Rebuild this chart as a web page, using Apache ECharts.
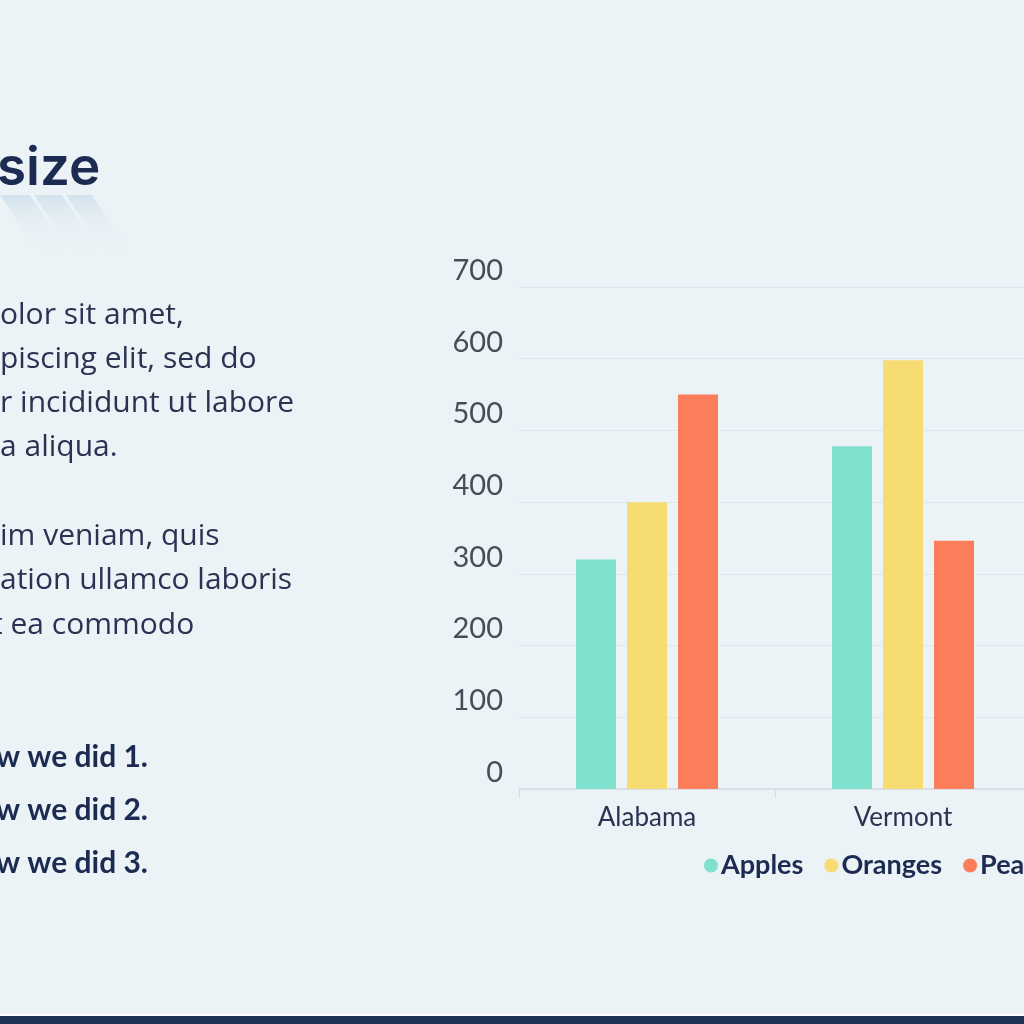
<!DOCTYPE html>
<html>
<head>
<meta charset="utf-8">
<script src="https://cdn.jsdelivr.net/npm/echarts@6/dist/echarts.min.js"></script>
<style>
  html, body { margin: 0; padding: 0; background: #ecf3f7; overflow: hidden; width: 1024px; height: 1024px; }
  /* the slide runs past the right edge of the picture */
  #chart { width: 1320px; height: 1024px; }
</style>
</head>
<body>
<div id="chart"></div>
<script>
// chart data
const categories = ['Alabama', 'Vermont', ''];
const seriesNames = ['Apples', 'Oranges', 'Pears'];
const apples = [320, 478];
const oranges = [400, 598];
const pears = [550, 346];
const yTicks = [0, 100, 200, 300, 400, 500, 600, 700];

// slide text (cut off at left edge of the picture)
const titleText = 'size';
const bodyLines = [
    'olor sit amet,',
    'piscing elit, sed do',
    'r incididunt ut labore',
    'a aliqua.',
    '',
    'im veniam, quis',
    'ation ullamco laboris',
    't ea commodo'
];
const boldLines = ['w we did 1.', 'w we did 2.', 'w we did 3.'];

const colors = ['#80e1cf', '#f6dc72', '#fc7d5a'];
const navy = '#1c2b52';
const font = 'Lato, "Open Sans", sans-serif';

function createOptions() {
    const values = [apples, oranges, pears];
    const seriesList = [];
    seriesNames.forEach((name, i) => {
        seriesList.push({
            name: name,
            type: 'bar',
            barWidth: 40,
            barGap: '27.5%',
            itemStyle: { color: colors[i] },
            data: values[i]
        });
    });

    const graphics = [];
    // faint streaks under the title
    [[0, 30], [34, 62], [66, 92]].forEach((s) => {
        graphics.push({
            type: 'polygon',
            shape: { points: [[s[0], 195], [s[1], 195], [s[1] + 36, 250], [s[0] + 36, 250]] },
            style: {
                fill: new echarts.graphic.LinearGradient(0, 0, 0, 1, [
                    { offset: 0, color: 'rgba(195,215,230,0.6)' },
                    { offset: 1, color: 'rgba(236,243,247,0)' }
                ])
            }
        });
    });
    graphics.push({
        type: 'text', left: -3, top: 143,
        style: { text: titleText, font: '600 53px Inter, sans-serif', fill: navy }
    });
    bodyLines.forEach((line, i) => {
        graphics.push({
            type: 'text', left: i === 7 ? -8 : 0, top: 300 + i * 44.3,
            style: { text: line, font: '30px "Open Sans", sans-serif', fill: '#2a3352' }
        });
    });
    boldLines.forEach((line, i) => {
        graphics.push({
            type: 'text', left: -4, top: 742 + i * 53,
            style: { text: line, font: 'bold 30px ' + font, fill: navy }
        });
    });
    // navy footer strip
    graphics.push({
        type: 'rect', left: 0, top: 1014, shape: { width: 1320, height: 2 },
        style: { fill: '#ffffff' }
    });
    graphics.push({
        type: 'rect', left: 0, top: 1016, shape: { width: 1320, height: 8 },
        style: { fill: '#1f3359' }
    });

    return {
        backgroundColor: '#ecf3f7',
        animation: false,
        textStyle: { fontFamily: font },
        legend: {
            data: seriesNames,
            left: 699,
            top: 847,
            icon: 'circle',
            itemWidth: 14,
            itemHeight: 14,
            itemGap: 21,
            textStyle: { fontSize: 27, fontWeight: 'bold', color: navy, fontFamily: font, padding: [0, 0, 0, -2] }
        },
        grid: {
            left: 519,
            top: 287,
            width: 768,
            bottom: 235,
            containLabel: false
        },
        xAxis: {
            type: 'category',
            data: categories,
            axisLine: { lineStyle: { color: '#d2dbe7', width: 1.5 } },
            axisTick: { show: true, length: 9, lineStyle: { color: '#d2dbe7' } },
            axisLabel: { fontSize: 26, color: '#2a3352', margin: 16, fontFamily: font }
        },
        yAxis: {
            type: 'value',
            min: yTicks[0],
            max: yTicks[yTicks.length - 1],
            interval: 100,
            axisLine: { show: false },
            axisTick: { show: false },
            splitLine: { lineStyle: { color: '#dde6ee', width: 1 } },
            axisLabel: {
                fontSize: 29,
                color: '#474c58',
                margin: 16,
                verticalAlign: 'bottom',
                padding: [0, 0, 2, 0],
                fontFamily: font
            }
        },
        graphic: graphics,
        series: seriesList
    };
}

const container = document.getElementById('chart');
const myChart = echarts.init(container);
myChart.setOption(createOptions());
</script>
</body>
</html>
